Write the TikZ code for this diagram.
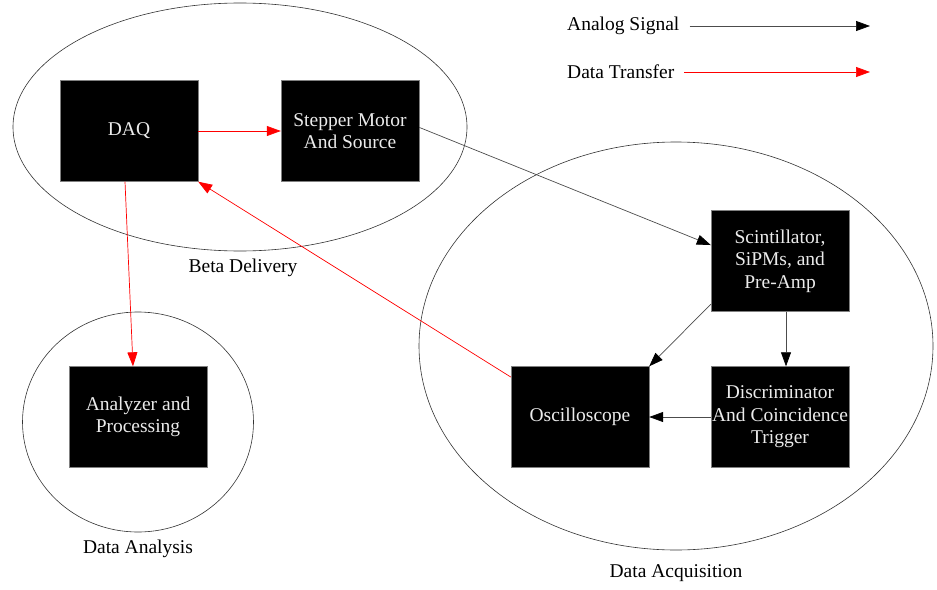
\documentclass[tikz,border=0pt]{standalone}
\usepackage{fontspec}
\setmainfont{Liberation Serif}
\usepackage{tikz}
\usetikzlibrary{arrows.meta}
\usetikzlibrary{shapes}

\begin{document}
\begin{tikzpicture}[x=1pt, y=-1pt,
  block/.style={draw=gray, fill=black, text=white!92!black, minimum width=138pt,
    minimum height=101pt, align=center, inner sep=0pt, font=\fontsize{19.5}{22.5}\selectfont},
  cluster/.style={draw=black!80, line width=0.6pt, ellipse, inner sep=0pt},
  groupname/.style={inner sep=0pt, font=\fontsize{19.5}{22.5}\selectfont},
  analog/.style={draw=black!70, line width=0.7pt, -{Triangle[length=14pt,width=10pt,black]}},
  transfer/.style={draw=red, line width=0.7pt, -{Triangle[length=14pt,width=10pt]}}]
\useasboundingbox (0,0) rectangle (937,589);
%
\node[cluster, minimum width=454pt, minimum height=248pt] (beta) at (240,127) {};
\node[cluster, minimum width=514pt, minimum height=408pt] (acq) at (676,346) {};
\node[cluster, minimum width=231pt, minimum height=220pt] (ana) at (138,422) {};
%
\node[groupname] (betaname) at (243,268) {Beta Delivery};
\node[groupname] (acqname) at (676,573) {Data Acquisition};
\node[groupname] (ananame) at (138,549) {Data Analysis};
%
\node[block] (daq) at (129,131) {DAQ};
\node[block] (stepper) at (350,131) {Stepper Motor\\And Source};
\node[block] (scint) at (780,261) {Scintillator,\\SiPMs, and\\Pre-Amp};
\node[block] (osc) at (580,417) {Oscilloscope};
\node[block] (disc) at (780,417) {Discriminator\\And Coincidence\\Trigger};
\node[block] (proc) at (138,417) {Analyzer and\\Processing};
%
\draw[transfer] (daq) -- (stepper);
\draw[analog] (stepper.3) -- (scint.167);
\draw[analog] (scint.212) -- (osc.north east);
\draw[analog] ([xshift=6pt]scint.south) -- ([xshift=6pt]disc.north);
\draw[analog] (disc) -- (osc);
\draw[transfer] (osc.150) -- (daq.south east);
\draw[transfer] ([xshift=-4pt]daq.south) -- ([xshift=-5pt]proc.north);
%
\node[groupname, anchor=west] (analogtxt) at (567,26) {Analog Signal};
\node[groupname, anchor=west] (transfertxt) at (567,72) {Data Transfer};
\coordinate (analogend) at (870,26);
\coordinate (transferend) at (870,72);
\draw[analog] ([xshift=10pt]analogtxt.east) -- (analogend);
\draw[transfer] ([xshift=10pt]transfertxt.east) -- (transferend);
\end{tikzpicture}
\end{document}
